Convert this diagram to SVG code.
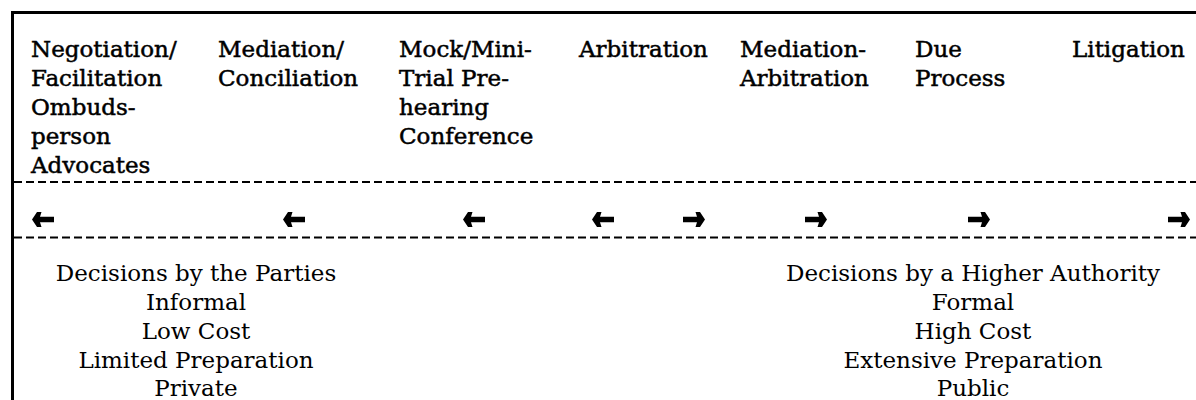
<svg xmlns="http://www.w3.org/2000/svg" width="1196" height="400" viewBox="0 0 1196 400">
<style>
.top{font-family:"DejaVu Serif","Liberation Serif",serif;font-size:23px;fill:#000;stroke:#000;stroke-width:0.5}
.bot{font-family:"DejaVu Serif","Liberation Serif",serif;font-size:23px;fill:#000;text-anchor:middle}
.dash{stroke:#000;stroke-width:2;stroke-dasharray:8 4;fill:none}
.border{stroke:#000;stroke-width:3;fill:none}
</style>
<defs>
<path id="ar" d="M -22 -2.7 H -8 L -9.5 -7.5 H -5 L 0 0 L -5 7.5 H -9.5 L -8 2.7 H -22 Z" fill="#000"/>
<path id="al" d="M 22 -2.7 H 8 L 9.5 -7.5 H 5 L 0 0 L 5 7.5 H 9.5 L 8 2.7 H 22 Z" fill="#000"/>
</defs>
<rect width="1196" height="400" fill="#fff"/>
<g id="frame">
<path class="border" d="M12.5 400 V12.5 H1196"/>
<line class="dash" x1="14" y1="182" x2="1196" y2="182"/>
<line class="dash" x1="14" y1="237.5" x2="1196" y2="237.5"/>
</g>
<g id="negotiation" class="top">
<text x="31" y="57">Negotiation/</text>
<text x="31" y="86">Facilitation</text>
<text x="31" y="115">Ombuds-</text>
<text x="31" y="144">person</text>
<text x="31" y="173">Advocates</text>
</g>
<g id="mediation" class="top">
<text x="218" y="57">Mediation/</text>
<text x="218" y="86">Conciliation</text>
</g>
<g id="minitrial" class="top">
<text x="399" y="57">Mock/Mini-</text>
<text x="399" y="86">Trial Pre-</text>
<text x="399" y="115">hearing</text>
<text x="399" y="144">Conference</text>
</g>
<g id="arbitration" class="top">
<text x="579" y="57">Arbitration</text>
</g>
<g id="medarb" class="top">
<text x="740" y="57">Mediation-</text>
<text x="740" y="86">Arbitration</text>
</g>
<g id="dueprocess" class="top">
<text x="915" y="57">Due</text>
<text x="915" y="86">Process</text>
</g>
<g id="litigation" class="top">
<text x="1072" y="57">Litigation</text>
</g>
<g id="connectors">
<use href="#al" x="32" y="219.5"/>
<use href="#al" x="283" y="219.5"/>
<use href="#al" x="463" y="219.5"/>
<use href="#al" x="592" y="219.5"/>
<use href="#ar" x="705" y="219.5"/>
<use href="#ar" x="827" y="219.5"/>
<use href="#ar" x="990" y="219.5"/>
<use href="#ar" x="1190" y="219.5"/>
</g>
<g id="parties" class="bot">
<text x="196" y="281">Decisions by the Parties</text>
<text x="196" y="310">Informal</text>
<text x="196" y="339">Low Cost</text>
<text x="196" y="368">Limited Preparation</text>
<text x="196" y="396">Private</text>
</g>
<g id="authority" class="bot">
<text x="973" y="281">Decisions by a Higher Authority</text>
<text x="973" y="310">Formal</text>
<text x="973" y="339">High Cost</text>
<text x="973" y="368">Extensive Preparation</text>
<text x="973" y="396">Public</text>
</g>
</svg>
